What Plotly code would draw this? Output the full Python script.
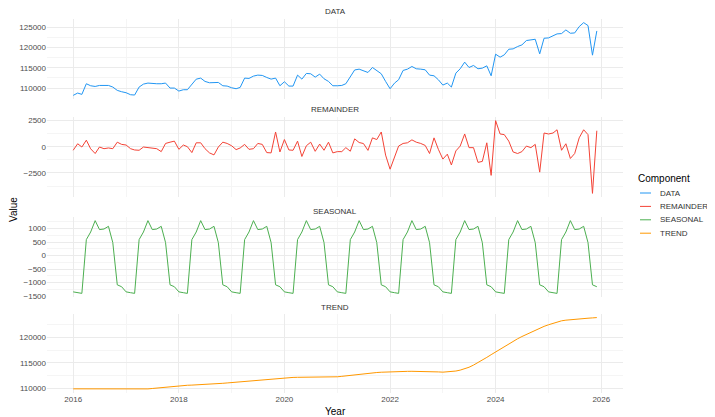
import pandas as pd
import plotly.graph_objects as go
from plotly.subplots import make_subplots

# monthly observations, Jan 2016 .. Dec 2025
months = pd.date_range("2016-01-01", periods=120, freq="MS")

data_vals = [
    108200, 108770, 108440, 111070, 110570, 110400, 110650, 110570, 110650, 110250, 109430, 109100,
    108850, 108360, 108280, 110250, 110980, 111230, 111070, 111070, 111070, 111230, 110000, 110000,
    109260, 109590, 109590, 110980, 112200, 112460, 111640, 111310, 111310, 111390, 110570, 110490,
    110080, 109840, 110160, 112460, 112380, 112950, 113200, 113120, 112620, 112210, 112460, 110570,
    111560, 110490, 110490, 113200, 112210, 113610, 113530, 112700, 113440, 112300, 111640, 110570,
    110570, 110650, 111070, 112800, 114470, 114670, 114350, 113850, 115080, 114260, 113530, 111640,
    109840, 111230, 112050, 114350, 114670, 115330, 114760, 114670, 114510, 113200, 113030, 112050,
    110740, 111230, 110250, 113690, 114760, 116400, 115080, 115580, 114760, 114920, 115490, 113030,
    118360, 117630, 118200, 119590, 119670, 120250, 120660, 121730, 121970, 122050, 118450, 122300,
    122380, 122870, 123370, 123450, 124350, 123530, 123610, 125170, 126150, 125420, 118120, 124100,
]

remainder_vals = [
    -340, 280, -30, 620, -200, -650, -30, -190, -120, -190, 430, 220,
    160, -190, -310, -340, -30, -90, -120, -190, -470, 310, 430, 530,
    -250, 160, 0, -560, 370, 370, -190, -590, -780, -30, 430, 310,
    90, -280, -120, 220, -250, -190, 310, 220, -560, -590, 1400, -500,
    680, -310, -340, 530, -930, 90, 430, -440, 250, -340, 430, -590,
    -470, -470, -90, -430, 745, 400, 300, -350, 840, 680, 1400, -800,
    -2140, -870, 60, 310, 370, 650, 430, 310, 120, -650, 840, -250,
    -1180, -710, -1740, -400, 60, 1210, -90, -90, -1490, -1400, 370, -2730,
    2480, 1210, 1150, 530, -500, -650, -470, 60, -90, 220, -2420, 1300,
    1210, 1300, 1610, -340, 280, -1120, -650, 840, 1610, 1150, -4440, 1520,
]

# one seasonal cycle, Jan..Dec, repeated every year
seasonal_cycle = [-1340, -1370, -1395, 590, 870, 1290, 960, 980, 1080, 480, -1080, -1150]
seasonal_vals = seasonal_cycle * 10

trend_vals = [
    109930, 109925, 109920, 109915, 109910, 109900, 109890, 109880, 109870, 109860, 109850, 109840,
    109830, 109820, 109820, 109830, 109860, 109920, 110000, 110090, 110190, 110290, 110380, 110460,
    110530, 110590, 110630, 110660, 110690, 110720, 110760, 110810, 110870, 110940, 111010, 111080,
    111160, 111240, 111320, 111400, 111480, 111560, 111640, 111720, 111800, 111880, 111960, 112030,
    112090, 112130, 112160, 112180, 112190, 112190, 112180, 112160, 112140, 112130, 112150, 112200,
    112280, 112370, 112470, 112570, 112670, 112770, 112870, 112960, 113040, 113110, 113170, 113220,
    113260, 113290, 113310, 113330, 113340, 113350, 113350, 113340, 113320, 113290, 113260, 113230,
    113180, 113230, 113300, 113400, 113580, 113830, 114140, 114560, 115030, 115540, 116060, 116590,
    117130, 117670, 118210, 118730, 119220, 119690, 120130, 120560, 120990, 121400, 121770, 122110,
    122420, 122700, 122960, 123190, 123320, 123420, 123500, 123570, 123640, 123700, 123760, 123820,
]

components = ["DATA", "REMAINDER", "SEASONAL", "TREND"]
series = [data_vals, remainder_vals, seasonal_vals, trend_vals]
colors = ["#2196F3", "#F44336", "#4CAF50", "#FF9800"]
dticks = [5000, 2500, 500, 5000]

W, H = 715, 417
OFF = 8   # the page body margin pushes the figure 8px right and down
PL, PR = 47 - OFF, 623 - OFF            # panel left/right in px
panels = [(19, 99), (117, 197), (217, 297), (314, 393)]   # top/bottom px (page)
strip_y = [12, 110, 211, 307]
MT, MB = 19 - OFF, 393 - OFF
FONT = "Liberation Sans, Arial, sans-serif"


def px_x(p):
    return (p - OFF - PL) / (PR - PL)


def px_y(p):
    return (MB - (p - OFF)) / (MB - MT)


fig = make_subplots(rows=4, cols=1)

for i, (name, vals, col) in enumerate(zip(components, series, colors)):
    fig.add_trace(go.Scatter(x=months, y=vals, mode="lines", name=name,
                             line=dict(color=col, width=1), showlegend=False), row=i + 1, col=1)

# ggplot style 5% expansion
x0 = months[0] - (months[-1] - months[0]) * 0.05
x1 = months[-1] + (months[-1] - months[0]) * 0.05

grid_major = "#EBEBEB"
grid_minor = "#F5F5F5"
tickfont = dict(family=FONT, size=8, color="#4D4D4D")

for i in range(4):
    top, bot = panels[i]
    dom = [px_y(bot), px_y(top)]
    vals = series[i]
    lo, hi = min(vals), max(vals)
    pad = (hi - lo) * 0.05
    ax = "" if i == 0 else str(i + 1)
    fig.layout["yaxis" + ax].update(
        domain=dom, range=[lo - pad, hi + pad], dtick=dticks[i], tick0=0, tickformat="d",
        showgrid=True, gridcolor=grid_major, gridwidth=1, zeroline=False, automargin=False,
        showline=False, ticks="", tickfont=tickfont,
        minor=dict(dtick=dticks[i] / 2, tick0=0, showgrid=True, gridcolor=grid_minor, gridwidth=1),
    )
    fig.layout["xaxis" + ax].update(
        type="date", range=[x0, x1], tick0="2016-01-01", dtick="M24", tickformat="%Y",
        showgrid=True, gridcolor=grid_major, gridwidth=1, zeroline=False, automargin=False,
        showline=False, ticks="", tickfont=tickfont, showticklabels=(i == 3),
        minor=dict(dtick="M12", tick0="2016-01-01", showgrid=True, gridcolor=grid_minor, gridwidth=1),
    )
    # facet strip label
    fig.add_annotation(text=components[i], xref="paper", yref="paper",
                       x=0.5, y=px_y(strip_y[i]), showarrow=False,
                       font=dict(family=FONT, size=8, color="#333333"),
                       xanchor="center", yanchor="middle")

# axis titles
fig.add_annotation(text="Year", xref="paper", yref="paper",
                   x=0.5, y=px_y(411), showarrow=False, xanchor="center", yanchor="middle",
                   font=dict(family=FONT, size=10, color="black"))
fig.add_annotation(text="Value", xref="paper", yref="paper",
                   x=px_x(13), y=px_y(210), textangle=-90,
                   showarrow=False, xanchor="center", yanchor="middle",
                   font=dict(family=FONT, size=10, color="black"))

# legend (drawn by hand, ggplot-like short keys)
fig.add_annotation(text="Component", xref="paper", yref="paper", x=px_x(636), y=px_y(178),
                   showarrow=False, xanchor="left", yanchor="middle",
                   font=dict(family=FONT, size=10, color="black"))
for k, (name, col) in enumerate(zip(components, colors)):
    yy = 193 + k * 13.4
    fig.add_shape(type="line", xref="paper", yref="paper",
                  x0=px_x(640), x1=px_x(651), y0=px_y(yy), y1=px_y(yy),
                  line=dict(color=col, width=1))
    fig.add_annotation(text=name, xref="paper", yref="paper", x=px_x(658), y=px_y(yy),
                       showarrow=False, xanchor="left", yanchor="middle",
                       font=dict(family=FONT, size=8, color="#333333"))

fig.update_layout(
    width=W, height=H,
    margin=dict(l=PL, r=W - PR, t=MT, b=H - MB, autoexpand=False),
    plot_bgcolor="white", paper_bgcolor="white",
    font=dict(family=FONT),
    showlegend=False,
)

fig.write_html("out.html")
